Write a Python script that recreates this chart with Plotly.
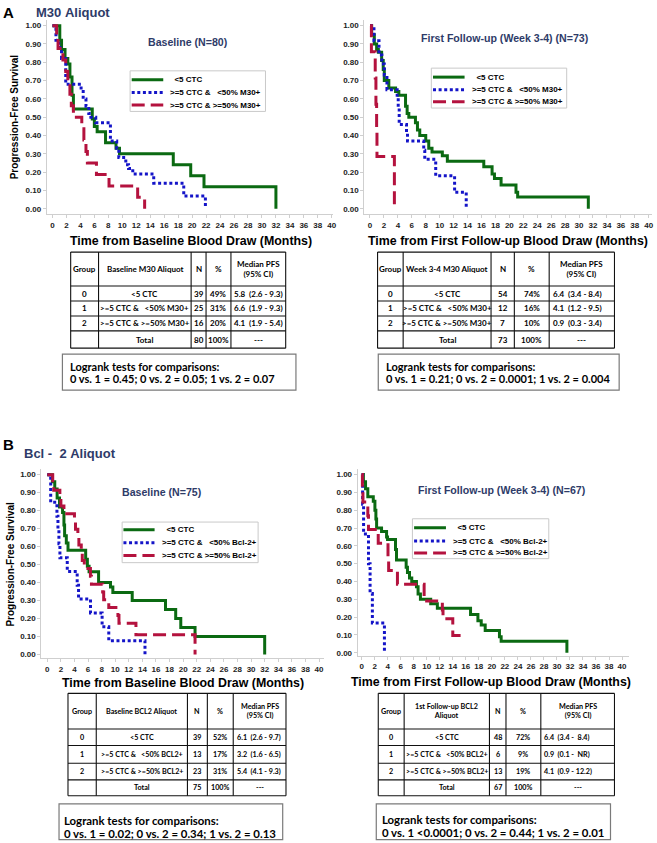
import plotly.graph_objects as go

# ======================= DATA =======================
panel_letters = ["A", "B"]
aliquot_titles = ["M30 Aliquot", "Bcl -  2 Aliquot"]
subtitles = ["Baseline (N=80)", "First Follow-up (Week 3-4) (N=73)",
             "Baseline (N=75)", "First Follow-up (Week 3-4) (N=67)"]
x_titles = ["Time from Baseline Blood Draw (Months)",
            "Time from First Follow-up Blood Draw (Months)",
            "Time from Baseline Blood Draw (Months)",
            "Time from First Follow-up Blood Draw (Months)"]
y_title = "Progression-Free Survival"
x_tick_vals = [0, 2, 4, 6, 8, 10, 12, 14, 16, 18, 20, 22, 24, 26, 28, 30, 32, 34, 36, 38, 40]
y_tick_vals = [0.0, 0.1, 0.2, 0.3, 0.4, 0.5, 0.6, 0.7, 0.8, 0.9, 1.0]

legend_m30 = ["  <5 CTC", ">=5 CTC &   <50% M30+", ">=5 CTC & >=50% M30+"]
legend_bcl = ["  <5 CTC", ">=5 CTC &   <50% Bcl-2+", ">=5 CTC & >=50% Bcl-2+"]

# --- Panel A, baseline M30 (months, PFS probability) ---
m30_base_lt5_t = [0, 1.05, 1.3, 1.8, 2.2, 2.5, 2.8, 3.0, 5.7, 6.0, 6.4, 7.6, 9.1, 9.6, 17.3, 19.8, 21.7, 32.0]
m30_base_lt5_s = [1, 0.92, 0.87, 0.82, 0.79, 0.72, 0.62, 0.545, 0.49, 0.45, 0.42, 0.36, 0.33, 0.30, 0.24, 0.18, 0.12, 0]
m30_base_lo_t = [0, 0.5, 0.9, 1.3, 1.9, 4.1, 4.4, 4.8, 5.2, 5.5, 6.2, 8.3, 9.2, 9.5, 10.5, 10.9, 11.5, 14.5, 18.8, 21.9]
m30_base_lo_s = [1, 0.92, 0.88, 0.82, 0.68, 0.64, 0.60, 0.56, 0.52, 0.50, 0.47, 0.37, 0.33, 0.28, 0.24, 0.22, 0.19, 0.14, 0.07, 0]
m30_base_hi_t = [0, 0.6, 0.8, 1.5, 1.9, 2.2, 2.5, 2.7, 3.0, 4.2, 4.5, 4.8, 5.0, 6.3, 8.1, 12.2, 13.2]
m30_base_hi_s = [1, 0.9375, 0.875, 0.8125, 0.75, 0.6875, 0.625, 0.5625, 0.5, 0.4375, 0.375, 0.3125, 0.25, 0.1875, 0.125, 0.0625, 0]

# --- Panel A, first follow-up M30 ---
m30_fu_lt5_t = [0, 0.24, 0.62, 0.95, 1.2, 1.67, 1.9, 2.05, 2.7, 3.67, 4.14, 5.1, 5.33, 5.57, 6.52, 6.81, 7.14, 8.0,
                8.43, 8.9, 10.38, 11.1, 16.33, 17.52, 17.86, 18.81, 20.95, 21.19, 31.33]
m30_fu_lt5_s = [1, 0.95, 0.90, 0.87, 0.855, 0.81, 0.76, 0.70, 0.66, 0.64, 0.62, 0.56, 0.52, 0.50, 0.47, 0.43, 0.40, 0.37,
                0.33, 0.31, 0.29, 0.26, 0.23, 0.19, 0.165, 0.13, 0.09, 0.065, 0]
m30_fu_lo_t = [0, 0.57, 1.29, 1.7, 2.05, 2.43, 3.9, 4.05, 4.19, 5.24, 5.38, 7.71, 7.86, 9.43, 12.14, 13.81]
m30_fu_lo_s = [1, 0.917, 0.84, 0.79, 0.73, 0.65, 0.61, 0.55, 0.46, 0.41, 0.37, 0.32, 0.27, 0.18, 0.09, 0]
m30_fu_hi_t = [0, 0.2, 0.75, 0.85, 0.95, 1.0, 3.5]
m30_fu_hi_s = [1, 0.857, 0.714, 0.571, 0.429, 0.286, 0]

# --- Panel B, baseline Bcl-2 ---
bcl_base_lt5_t = [0, 0.75, 1.1, 1.45, 1.8, 2.25, 2.45, 2.55, 2.8, 3.05, 5.65, 5.9, 6.15, 7.55, 9.3, 9.65, 12.5,
                  17.4, 18.9, 19.65, 21.75, 32.0]
bcl_base_lt5_s = [1, 0.96, 0.92, 0.87, 0.82, 0.79, 0.72, 0.66, 0.62, 0.58, 0.53, 0.49, 0.46, 0.40, 0.375, 0.345, 0.30,
                  0.25, 0.20, 0.15, 0.10, 0]
bcl_base_lo_t = [0, 0.5, 1.42, 1.57, 1.71, 1.86, 2.94, 4.4, 4.6, 6.36, 8.07, 9.05, 14.38]
bcl_base_lo_s = [1, 0.846, 0.769, 0.692, 0.615, 0.538, 0.462, 0.385, 0.308, 0.231, 0.154, 0.077, 0]
bcl_base_hi_t = [0, 0.8, 0.95, 1.85, 2.0, 2.45, 4.0, 4.15, 4.5, 4.65, 5.0, 5.15, 5.45, 6.35, 6.5, 8.15, 8.3, 9.05,
                 10.4, 10.55, 13.05, 21.75]
bcl_base_hi_s = [1, 0.957, 0.913, 0.870, 0.826, 0.783, 0.739, 0.696, 0.652, 0.609, 0.565, 0.522, 0.478, 0.435,
                 0.391, 0.348, 0.304, 0.261, 0.217, 0.174, 0.109, 0]

# --- Panel B, first follow-up Bcl-2 ---
bcl_fu_lt5_t = [0, 0.27, 0.6, 0.95, 1.79, 2.04, 2.19, 2.3, 3.06, 3.83, 3.98, 5.2, 5.36, 6.84, 7.04, 7.35, 7.7, 8.42,
                8.67, 9.03, 10.61, 11.63, 16.73, 17.86, 18.37, 18.98, 21.17, 21.43, 31.53]
bcl_fu_lt5_s = [1, 0.96, 0.92, 0.875, 0.85, 0.80, 0.75, 0.70, 0.68, 0.65, 0.635, 0.58, 0.52, 0.48, 0.45, 0.42, 0.40,
                0.37, 0.33, 0.30, 0.275, 0.25, 0.215, 0.18, 0.155, 0.125, 0.09, 0.065, 0]
bcl_fu_lo_t = [0, 0.15, 0.3, 1.05, 1.3, 1.65, 3.5]
bcl_fu_lo_s = [1, 0.833, 0.667, 0.5, 0.333, 0.167, 0]
bcl_fu_hi_t = [0, 0.12, 0.2, 0.95, 1.05, 2.55, 4.05, 4.15, 5.5, 9.6, 12.4, 12.5, 14.0, 16.1]
bcl_fu_hi_s = [1, 0.923, 0.846, 0.769, 0.692, 0.615, 0.538, 0.462, 0.385, 0.29, 0.24, 0.19, 0.096, 0.096]

# --- summary tables ---
tbl_header_m30_base = ["Group", "Baseline M30 Aliquot", "N", "%", "Median PFS<br>(95% CI)"]
tbl_rows_m30_base = [["0", "<5 CTC", "39", "49%", "5.8  (2.6 - 9.3)"],
                     ["1", ">=5 CTC &   <50% M30+", "25", "31%", "6.6  (1.9 - 9.3)"],
                     ["2", ">=5 CTC & >=50% M30+", "16", "20%", "4.1  (1.9 - 5.4)"],
                     ["", "Total", "80", "100%", "---"]]
tbl_header_m30_fu = ["Group", "Week 3-4 M30 Aliquot", "N", "%", "Median PFS<br>(95% CI)"]
tbl_rows_m30_fu = [["0", "<5 CTC", "54", "74%", "6.4  (3.4 - 8.4)"],
                   ["1", ">=5 CTC &   <50% M30+", "12", "16%", "4.1  (1.2 - 9.5)"],
                   ["2", ">=5 CTC & >=50% M30+", "7", "10%", "0.9  (0.3 - 3.4)"],
                   ["", "Total", "73", "100%", "---"]]
tbl_header_bcl_base = ["Group", "Baseline BCL2 Aliquot", "N", "%", "Median PFS<br>(95% CI)"]
tbl_rows_bcl_base = [["0", "<5 CTC", "39", "52%", "6.1  (2.6 - 9.7)"],
                     ["1", ">=5 CTC &   <50% BCL2+", "13", "17%", "3.2  (1.6 - 6.5)"],
                     ["2", ">=5 CTC & >=50% BCL2+", "23", "31%", "5.4  (4.1 - 9.3)"],
                     ["", "Total", "75", "100%", "---"]]
tbl_header_bcl_fu = ["Group", "1st Follow-up BCL2<br>Aliquot", "N", "%", "Median PFS<br>(95% CI)"]
tbl_rows_bcl_fu = [["0", "<5 CTC", "48", "72%", "6.4  (3.4 -  8.4)"],
                   ["1", ">=5 CTC &   <50% BCL2+", "6", "9%", "0.9  (0.1 -  NR)"],
                   ["2", ">=5 CTC & >=50% BCL2+", "13", "19%", "4.1  (0.9 - 12.2)"],
                   ["", "Total", "67", "100%", "---"]]

logrank_head = "Logrank tests for comparisons:"
logrank_vals = ["0 vs. 1 = 0.45; 0 vs. 2 = 0.05; 1 vs. 2 = 0.07",
                "0 vs. 1 = 0.21; 0 vs. 2 = 0.0001; 1 vs. 2 = 0.004",
                "0 vs. 1 = 0.02; 0 vs. 2 = 0.34; 1 vs. 2 = 0.13",
                "0 vs. 1 <0.0001; 0 vs. 2 = 0.44; 1 vs. 2 = 0.01"]

# ======================= STYLE / LAYOUT =======================
W, H = 657, 843
SANS = "Liberation Sans"
TBL = "Lato"
NAVY = "#2e3b68"
C_GREEN, C_BLUE, C_RED = "#0b6a12", "#1414c8", "#b4123e"
DASHES = ["solid", "3px,2.6px", "13px,6px"]
COLORS = [C_GREEN, C_BLUE, C_RED]


def X(px):
    return px / W


def Y(py):
    return 1 - py / H


def esc(s):
    s = s.replace("&", "&amp;").replace("<", "&lt;").replace(">", "&gt;")
    s = s.replace("&lt;br&gt;", "<br>")
    return s.replace(" ", "\u00a0")


def ann(text, x, y, size, color="#000", family=SANS, bold=True, xa="center", ya="middle", angle=0):
    return dict(text=text, x=X(x), y=Y(y), xref="paper", yref="paper", showarrow=False,
                xanchor=xa, yanchor=ya, textangle=angle,
                font=dict(family=family, size=size, color=color, weight="bold" if bold else "normal"))


curves = [
    [(m30_base_lt5_t, m30_base_lt5_s), (m30_base_lo_t, m30_base_lo_s), (m30_base_hi_t, m30_base_hi_s)],
    [(m30_fu_lt5_t, m30_fu_lt5_s), (m30_fu_lo_t, m30_fu_lo_s), (m30_fu_hi_t, m30_fu_hi_s)],
    [(bcl_base_lt5_t, bcl_base_lt5_s), (bcl_base_lo_t, bcl_base_lo_s), (bcl_base_hi_t, bcl_base_hi_s)],
    [(bcl_fu_lt5_t, bcl_fu_lt5_s), (bcl_fu_lo_t, bcl_fu_lo_s), (bcl_fu_hi_t, bcl_fu_hi_s)],
]

# axis geometry in pixels: x-domain, x-range, y-domain (top,bottom), y-range
geo = [
    dict(xd=(47, 335), xr=(-0.8125, 40.24), yd=(20, 215), yr=(-0.031, 1.031)),
    dict(xd=(366, 655), xr=(-0.814, 40.47), yd=(20, 215), yr=(-0.031, 1.031)),
    dict(xd=(41.5, 325), xr=(-0.88, 40.66), yd=(470, 660), yr=(-0.022, 1.032)),
    dict(xd=(359.3, 631.7), xr=(-0.61, 41.04), yd=(470, 657.3), yr=(-0.017, 1.032)),
]

fig = go.Figure()
layout = dict(width=W, height=H, margin=dict(l=0, r=0, t=0, b=0), paper_bgcolor="white",
              plot_bgcolor="white", showlegend=False)

for i, g in enumerate(geo):
    sx = "" if i == 0 else str(i + 1)
    for j, (t, s) in enumerate(curves[i]):
        fig.add_trace(go.Scatter(x=t, y=s, mode="lines", xaxis="x" + sx, yaxis="y" + sx,
                                 line=dict(shape="hv", color=COLORS[j], width=3, dash=DASHES[j]),
                                 hoverinfo="skip"))
    axis_common = dict(showgrid=False, zeroline=False, showline=True, linecolor="#cfcfcf", linewidth=1,
                       ticks="outside", ticklen=3, tickcolor="#cfcfcf",
                       tickfont=dict(family=SANS, size=8, color="#222", weight="bold"))
    layout["xaxis" + sx] = dict(domain=[X(g["xd"][0]), X(g["xd"][1])], range=list(g["xr"]),
                                anchor="y" + sx, tickvals=x_tick_vals, **axis_common)
    layout["yaxis" + sx] = dict(domain=[Y(g["yd"][1]), Y(g["yd"][0])], range=list(g["yr"]),
                                anchor="x" + sx, tickvals=y_tick_vals, tickformat=".2f", **axis_common)

annotations = []
shapes = []

# headers
annotations.append(ann(panel_letters[0], 1, 12.5, 15, xa="left"))
annotations.append(ann(aliquot_titles[0].replace(" ", "\u00a0"), 34.5, 12.5, 13, color=NAVY, xa="left"))
annotations.append(ann(panel_letters[1], 1, 445.5, 15, xa="left"))
annotations.append(ann(aliquot_titles[1].replace(" ", "\u00a0"), 22, 455, 13, color=NAVY, xa="left"))

# subtitles
for txt, (cx, cy) in zip(subtitles, [(188.3, 41.7), (507.2, 38.3), (162.5, 492.7), (503.8, 490.7)]):
    annotations.append(ann(txt, cx, cy, 10.6, color=NAVY))

# axis titles
for txt, (cx, cy) in zip(x_titles, [(191.5, 241.7), (510, 241.7), (184, 685), (493.5, 683.5)]):
    annotations.append(ann(txt, cx, cy, 12.4))
annotations.append(ann(y_title, 14, 116.7, 10, angle=-90))
annotations.append(ann(y_title, 11, 565, 10, angle=-90))

# legends
leg_geo = [
    dict(box=(130.7, 71, 266.7, 111.7), lx=(132.3, 164), rows=(80, 92.7, 105.3), tx=168.3, labels=legend_m30),
    dict(box=(433.3, 68.3, 569.3, 108.3), lx=(435, 466.7), rows=(77.3, 90, 102), tx=471.7, labels=legend_m30),
    dict(box=(122.7, 523.3, 259.3, 564), lx=(124, 155.3), rows=(531, 544, 556.7), tx=161, labels=legend_bcl),
    dict(box=(414.3, 520, 551.3, 560), lx=(416, 448), rows=(529, 542.3, 554.3), tx=453.3, labels=legend_bcl),
]
for lg in leg_geo:
    x0, y0, x1, y1 = lg["box"]
    shapes.append(dict(type="rect", xref="paper", yref="paper", x0=X(x0), x1=X(x1), y0=Y(y1), y1=Y(y0),
                       line=dict(color="#c9c9c9", width=1), fillcolor="white", layer="above"))
    for j, ry in enumerate(lg["rows"]):
        shapes.append(dict(type="line", xref="paper", yref="paper", x0=X(lg["lx"][0]), x1=X(lg["lx"][1]),
                           y0=Y(ry), y1=Y(ry), line=dict(color=COLORS[j], width=3, dash=DASHES[j]),
                           layer="above"))
        annotations.append(ann(esc(lg["labels"][j]), lg["tx"], ry, 8, xa="left"))

# tables
tables = [
    dict(cols=[71, 99, 192, 207, 232, 287], rows=[252.7, 286.7, 301.7, 316.7, 331.7, 349], fs=8.0,
         header=tbl_header_m30_base, body=tbl_rows_m30_base),
    dict(cols=[379.3, 405, 493.3, 516.7, 551.7, 617.3], rows=[252.7, 286.7, 301.7, 316.7, 331.7, 349], fs=8.0,
         header=tbl_header_m30_fu, body=tbl_rows_m30_fu),
    dict(cols=[68.3, 96.7, 188.3, 208.3, 234.3, 287.3], rows=[695, 730.7, 747.3, 765, 781.7, 797.7], fs=7.2,
         header=tbl_header_bcl_base, body=tbl_rows_bcl_base),
    dict(cols=[380, 406, 491.7, 508.3, 543.3, 617.3], rows=[695, 730.7, 747.3, 765, 781.7, 797.7], fs=7.2,
         header=tbl_header_bcl_fu, body=tbl_rows_bcl_fu),
]
for tb in tables:
    cols, rows = tb["cols"], tb["rows"]
    for cx in cols:
        shapes.append(dict(type="line", xref="paper", yref="paper", x0=X(cx), x1=X(cx), y0=Y(rows[0]),
                           y1=Y(rows[-1]), line=dict(color="#111", width=1.1)))
    for ry in rows:
        shapes.append(dict(type="line", xref="paper", yref="paper", x0=X(cols[0]), x1=X(cols[-1]), y0=Y(ry),
                           y1=Y(ry), line=dict(color="#111", width=1.1)))
    all_rows = [tb["header"]] + tb["body"]
    for r, row in enumerate(all_rows):
        cy = (rows[r] + rows[r + 1]) / 2
        for c, txt in enumerate(row):
            if txt == "":
                continue
            if c == 4 and r > 0 and txt != "---":
                annotations.append(ann(esc(txt), cols[c] + 1.5, cy, tb["fs"], family=TBL, xa="left"))
            else:
                annotations.append(ann(esc(txt), (cols[c] + cols[c + 1]) / 2, cy, tb["fs"], family=TBL))

# logrank boxes
lr_geo = [
    dict(box=(62.7, 355, 297.3, 391), tx=68.5, ys=(367.7, 379.5), fs=11),
    dict(box=(380, 355, 622, 391), tx=386, ys=(367.7, 379.5), fs=11),
    dict(box=(59.3, 805.7, 284, 841.7), tx=62.7, ys=(822.7, 835), fs=11.4),
    dict(box=(378, 805.7, 613.3, 841.7), tx=381.7, ys=(821.7, 834), fs=11.4),
]
for lg, val in zip(lr_geo, logrank_vals):
    x0, y0, x1, y1 = lg["box"]
    shapes.append(dict(type="rect", xref="paper", yref="paper", x0=X(x0), x1=X(x1), y0=Y(y1), y1=Y(y0),
                       line=dict(color="#7a7a7a", width=1.2)))
    annotations.append(ann(logrank_head, lg["tx"], lg["ys"][0], lg["fs"], family=TBL, xa="left"))
    annotations.append(ann(esc(val), lg["tx"], lg["ys"][1], lg["fs"], family=TBL, xa="left"))

layout["annotations"] = annotations
layout["shapes"] = shapes
fig.update_layout(**layout)
fig.write_html("out.html", config={"displayModeBar": False},
               post_script="document.body.style.margin='0';document.body.style.overflow='hidden';")
